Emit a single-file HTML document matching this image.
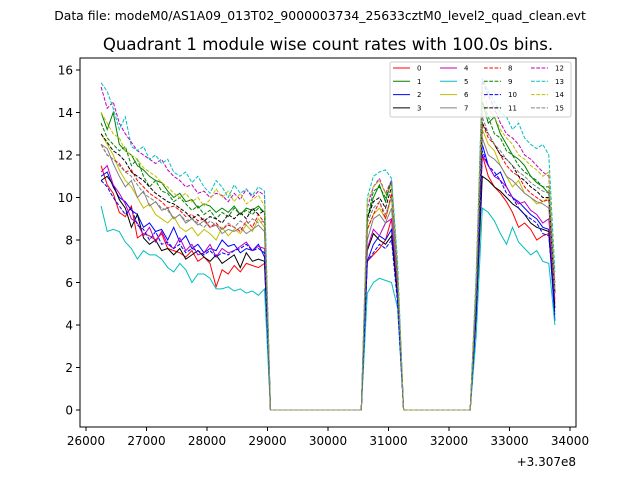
<!DOCTYPE html>
<html><head><meta charset="utf-8"><style>
body{margin:0;background:#fff}
svg{display:block;font-family:"DejaVu Sans","Liberation Sans",sans-serif}
</style></head><body>
<svg id="chart" width="640" height="480" viewBox="0 0 640 480">
<rect width="640" height="480" fill="#fff"/>
<text x="320" y="20" font-size="12.4" text-anchor="middle">Data file: modeM0/AS1A09_013T02_9000003734_25633cztM0_level2_quad_clean.evt</text>
<text x="328" y="50" font-size="16.6" text-anchor="middle">Quadrant 1 module wise count rates with 100.0s bins.</text>
<g id="plot"></g>
<g id="axes"></g>
<g id="legend"></g>
</svg>
<script>
const xTicks=[26000,27000,28000,29000,30000,31000,32000,33000,34000];
const yTicks=[0,2,4,6,8,10,12,14,16];
const offsetLabel="+3.307e8";
const colors=["#ff0000","#008000","#0000ff","#000000","#bf00bf","#00bfbf","#bfbf00","#808080"];
const s0=[[11.5,10.6,10.2,9.3,9.1,9.6,8.1,8.3,8.2,8.0,8.3,7.6,7.5,7.4,7.2,7.5,7.0,7.2,6.9,5.8,6.6,6.4,6.8,6.5,6.9,6.8,6.7,6.9],[7.0,7.3,7.6,8.0,9.0,5.5],[5.0,12.0,11.0,10.5,10.2,9.8,9.3,8.6,8.8,8.5,8.0,8.2,8.3,5.0]];
const s1=[[14.0,13.2,14.0,12.5,12.2,12.0,11.5,11.3,11.0,10.8,10.7,10.3,10.0,10.2,9.8,9.9,9.5,9.7,9.6,9.3,9.5,9.3,9.6,9.2,9.5,9.4,9.6,9.3],[9.0,10.0,10.6,9.8,10.8,6.0],[6.0,14.5,13.5,13.8,13.0,12.5,12.0,11.8,11.5,11.0,10.7,10.5,10.2,5.5]];
const s2=[[11.0,11.2,10.5,10.0,9.8,9.4,9.2,8.6,8.8,8.4,8.5,8.0,8.6,7.9,8.2,7.6,7.8,7.4,7.6,7.5,8.0,7.7,7.8,7.4,7.6,7.5,7.8,7.2],[7.0,7.8,8.2,8.0,8.5,5.2],[4.5,12.5,11.5,11.0,11.2,10.5,10.0,9.8,9.5,9.2,9.0,8.6,8.5,4.2]];
const s3=[[10.8,11.0,10.6,9.9,9.5,8.6,9.2,8.1,7.8,8.0,7.5,7.6,7.3,7.6,7.1,7.3,7.5,7.2,7.0,7.3,6.9,7.1,7.3,6.7,7.4,7.0,7.1,7.0],[7.5,8.3,8.0,7.8,8.2,5.5],[4.5,11.0,10.8,10.5,10.3,10.0,9.7,9.5,9.2,8.8,8.6,8.5,8.4,4.8]];
const s4=[[11.2,11.5,10.6,10.2,9.7,9.0,8.8,8.2,8.6,7.9,8.4,7.8,7.6,8.1,7.5,7.8,7.3,7.4,7.8,7.2,7.6,7.4,7.5,7.7,7.9,7.5,7.7,7.6],[7.6,8.5,8.2,8.8,9.0,5.8],[5.0,12.0,11.5,11.0,10.8,10.5,10.0,9.7,9.8,9.4,9.2,8.8,9.0,5.2]];
const s5=[[9.6,8.4,8.5,8.4,7.9,7.6,7.1,7.5,7.3,7.3,7.1,6.7,6.5,6.9,6.6,6.0,6.4,6.4,6.2,5.7,5.7,5.8,5.6,5.7,5.5,5.6,5.4,5.7],[5.5,6.0,6.2,6.1,6.0,4.8],[3.5,9.5,9.3,8.9,8.3,7.8,8.6,7.9,7.6,7.3,7.5,7.0,6.9,4.0]];
const s6=[[13.0,12.5,12.0,11.3,10.8,10.5,10.0,9.5,9.7,9.2,9.0,8.8,9.1,8.6,8.4,8.6,8.2,8.5,8.3,8.0,8.6,8.2,8.5,8.3,8.7,8.4,9.0,8.6],[8.5,9.2,9.5,9.0,10.0,6.0],[5.5,13.2,12.5,12.2,11.5,11.0,10.5,10.8,10.2,10.0,9.7,9.8,10.0,5.5]];
const s7=[[12.5,12.3,11.6,11.0,10.5,10.8,10.0,10.3,9.6,9.8,9.4,9.5,9.0,9.2,8.8,9.0,8.7,8.9,8.6,8.7,8.3,8.5,8.4,8.6,8.3,8.5,8.7,8.4],[8.0,9.0,9.2,8.8,9.5,6.0],[5.5,12.8,12.0,11.8,11.5,11.0,10.8,10.5,10.2,10.0,9.8,9.7,9.5,5.5]];
const s8=[[12.5,12.0,11.8,11.6,11.2,11.3,10.8,10.5,10.2,10.0,9.8,9.5,9.6,9.4,9.1,9.2,8.9,9.0,8.6,8.8,8.5,8.7,8.6,8.4,8.9,8.6,9.2,8.8],[8.5,9.2,9.8,9.0,10.2,6.2],[5.5,13.5,12.8,12.5,12.0,11.5,11.2,11.0,10.5,10.2,10.0,9.8,9.9,5.5]];
const s9=[[13.5,12.8,12.5,12.2,12.4,11.5,11.8,11.0,10.5,10.8,10.3,10.2,9.8,10.0,9.7,9.4,9.6,9.2,9.4,9.0,9.3,9.1,9.5,9.2,9.4,9.2,9.5,9.3],[9.0,10.3,10.5,10.0,10.8,6.5],[6.0,14.5,13.8,13.0,12.8,12.2,12.0,11.5,11.2,11.0,10.8,10.5,10.5,5.8]];
const s10=[[10.8,10.5,10.0,9.6,9.2,9.5,8.7,8.5,8.0,8.4,7.8,7.9,7.6,7.8,7.4,7.6,7.5,7.3,7.5,7.2,7.4,7.3,7.5,7.6,7.8,7.5,7.6,7.4],[7.0,7.4,7.8,7.6,8.0,5.0],[4.5,12.2,11.5,11.2,10.8,10.2,10.0,9.5,9.2,9.0,8.8,8.3,8.2,4.5]];
const s11=[[13.0,12.6,12.2,12.0,11.7,11.2,11.0,10.8,10.5,10.2,10.0,9.8,9.7,9.5,9.3,9.0,9.2,8.9,9.1,9.0,8.8,9.2,9.0,9.3,9.0,9.5,9.2,9.4],[9.0,9.8,10.0,9.5,10.5,6.2],[5.5,13.5,13.0,12.5,12.0,11.8,11.5,11.0,10.8,10.5,10.3,10.0,10.0,5.5]];
const s12=[[15.2,14.2,14.5,13.5,13.0,12.6,12.2,12.0,11.8,11.6,11.8,11.3,11.0,10.8,10.5,10.6,10.2,10.3,10.0,10.2,10.1,9.8,10.2,9.9,10.4,10.0,10.3,10.1],[9.5,10.5,10.9,10.2,10.8,6.5],[6.0,15.5,14.8,14.2,13.5,13.0,12.8,12.5,12.0,11.8,11.5,11.2,11.0,6.0]];
const s13=[[15.4,15.0,14.2,13.2,13.8,12.4,12.2,12.4,11.8,12.0,11.6,11.8,11.2,11.0,11.2,10.7,11.0,10.5,10.2,10.8,10.5,10.0,10.6,10.2,10.4,10.1,10.5,10.3],[10.0,11.0,11.2,11.3,10.9,7.0],[6.5,15.6,15.0,14.5,14.0,13.8,13.2,13.5,12.8,12.5,12.3,12.5,12.0,6.5]];
const s14=[[14.0,13.5,13.0,12.8,12.2,12.0,11.8,11.4,11.2,11.0,10.7,10.5,10.2,10.0,10.2,9.8,10.0,9.6,9.9,10.4,10.0,10.3,9.8,10.2,9.7,9.9,10.1,9.6],[9.8,10.5,10.8,10.2,10.5,6.5],[6.0,15.0,14.2,13.8,13.2,12.8,12.5,12.0,11.8,11.5,11.3,11.0,11.2,5.8]];
const s15=[[12.5,12.0,11.8,11.5,11.2,11.0,10.6,10.2,10.0,9.8,9.5,9.4,9.0,9.2,8.9,9.0,8.8,8.6,8.9,8.7,8.5,8.8,8.6,8.9,8.7,9.0,8.8,8.9],[8.8,9.5,9.8,9.2,10.0,6.2],[5.5,13.8,13.0,12.5,12.2,11.8,11.5,11.2,11.0,10.7,10.5,10.3,10.2,5.5]];
const allSeries=[s0,s1,s2,s3,s4,s5,s6,s7,s8,s9,s10,s11,s12,s13,s14,s15];
const tStart=26250, tStep=100, gap1=16, gap2=12;

const NS="http://www.w3.org/2000/svg";
const X0=80,X1=576,Y0=58,Y1=427;
function xs(t){return 86+(t-26000)*0.0605;}
function ys(v){return 410-v*21.25;}
function mk(tag,attrs,parent){const e=document.createElementNS(NS,tag);for(const k in attrs)e.setAttribute(k,attrs[k]);parent.appendChild(e);return e;}
const plot=document.getElementById('plot'),axes=document.getElementById('axes'),legend=document.getElementById('legend');
const clip=mk('clipPath',{id:'clp'},plot);mk('rect',{x:X0,y:Y0,width:X1-X0,height:Y1-Y0},clip);
allSeries.forEach((s,i)=>{
  const vals=[].concat(s[0],new Array(gap1).fill(0),s[1],new Array(gap2).fill(0),s[2]);
  const pts=vals.map((v,j)=>xs(tStart+j*tStep).toFixed(1)+","+ys(v).toFixed(1)).join(" ");
  const p=mk('polyline',{points:pts,fill:'none',stroke:colors[i%8],'stroke-width':1,'clip-path':'url(#clp)'},plot);
  if(i>=8)p.setAttribute('stroke-dasharray','3.7,1.6');
  
  
});
const frame=mk('rect',{x:X0,y:Y0,width:X1-X0,height:Y1-Y0,fill:'none',stroke:'#000','stroke-width':1},axes);


xTicks.forEach(t=>{
  const x=xs(t);
  mk('line',{x1:x,x2:x,y1:Y1,y2:Y1+4,stroke:'#000'},axes);
  const tx=mk('text',{x:x,y:Y1+18,'font-size':12,'text-anchor':'middle'},axes);tx.textContent=t;
  
  
});
yTicks.forEach(v=>{
  const y=ys(v);
  mk('line',{x1:X0-4,x2:X0,y1:y,y2:y,stroke:'#000'},axes);
  const tx=mk('text',{x:X0-7,y:y+4.5,'font-size':12,'text-anchor':'end'},axes);tx.textContent=v;
  
  
});
const off=mk('text',{x:X1,y:466,'font-size':12,'text-anchor':'end'},axes);off.textContent=offsetLabel;


const lb=mk('rect',{x:390,y:62,width:181,height:55,fill:'#fff','fill-opacity':0.8,stroke:'#ccc',rx:2},legend);


const colX=[393,440,484,531];
for(let i=0;i<16;i++){
  const c=Math.floor(i/4),r=i%4,y=68+r*13.3,x=colX[c];
  const g=mk('g',{},legend);
  
  
  const l=mk('line',{x1:x,x2:x+17,y1:y,y2:y,stroke:colors[i%8],'stroke-width':1},g);
  if(i>=8)l.setAttribute('stroke-dasharray','3.7,1.6');
  const t=mk('text',{x:x+24,y:y+2.5,'font-size':7},g);t.textContent=i;
}
</script>
</body></html>
